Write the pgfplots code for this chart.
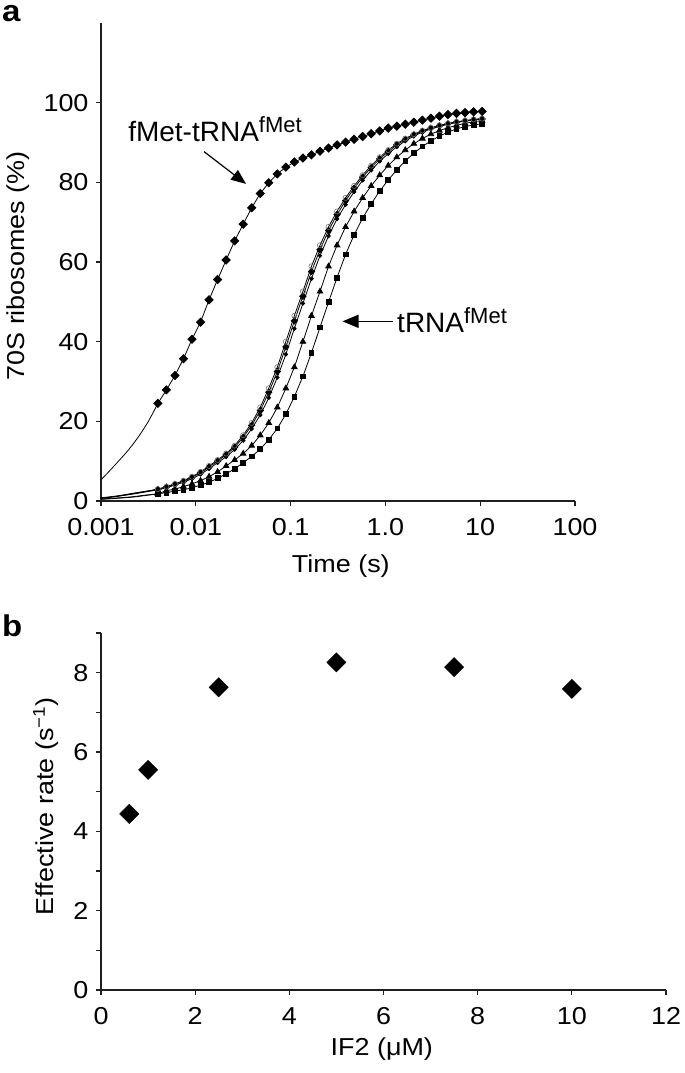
\documentclass[border=0pt]{standalone}
\usepackage{fontspec}
\setmainfont{Liberation Sans}[FakeStretch=1.1]
\newfontfamily\annfont{Liberation Sans}
\usepackage{pgfplots}
\pgfplotsset{compat=1.18}
\usepackage{pgfplotstable}
\usetikzlibrary{arrows.meta}

\newcommand{\tfont}{\fontsize{24.5}{26}\selectfont}
\newcommand{\afont}{\annfont\fontsize{28}{30}\selectfont}
\newcommand{\sfont}{\annfont\fontsize{22}{24}\selectfont}

% fMet-tRNA^fMet time course
\pgfplotstableread{
t y
0.00398 24.5
0.00490 27.9
0.00603 31.5
0.00741 35.7
0.00912 40.6
0.01122 44.9
0.01380 50.5
0.01698 55.6
0.02089 60.5
0.02570 65.3
0.03162 69.5
0.03890 73.6
0.04786 77.2
0.05888 79.9
0.07244 82.1
0.08913 83.8
0.1096 85.1
0.1349 86.1
0.1660 86.9
0.2042 87.8
0.2512 88.6
0.3090 89.4
0.3802 90.1
0.4677 90.8
0.5754 91.5
0.7079 92.2
0.8710 92.9
1.0715 93.6
1.3183 94.1
1.6218 94.6
1.9953 95.1
2.4547 95.6
3.0200 96.1
3.7154 96.6
4.5709 97.0
5.6234 97.3
6.9183 97.5
8.5114 97.7
10.471 97.8
}\fmet

% tRNA^fMet time courses (five conditions)
\pgfplotstableread{
t A B C T S
0.00398 3.0 2.9 2.8 1.8 1.8
0.00490 3.6 3.5 3.3 2.6 2.1
0.00603 4.3 4.2 4.0 3.0 2.5
0.00741 5.1 4.9 4.7 3.6 2.8
0.00912 6.1 5.9 5.6 4.3 3.3
0.01122 7.3 7.1 6.7 5.1 4.0
0.01380 8.8 8.5 8.1 6.1 4.7
0.01698 10.3 10.0 9.6 7.3 5.7
0.02089 11.9 11.6 11.1 8.8 6.8
0.02570 13.9 13.5 12.9 10.3 8.1
0.03162 16.5 16.0 15.2 11.9 9.6
0.03890 19.6 19.0 18.1 13.9 11.2
0.04786 23.5 22.7 21.6 16.5 13.0
0.05888 28.3 27.3 25.9 19.6 15.4
0.07244 33.6 32.5 31.0 23.5 18.2
0.08913 40.0 38.7 36.8 28.3 21.8
0.1096 46.5 45.2 43.3 33.6 26.2
0.1349 52.6 51.4 49.6 40.0 31.3
0.1660 58.9 57.6 55.8 46.5 37.2
0.2042 64.2 63.1 61.6 52.6 43.6
0.2512 68.8 67.9 66.5 58.9 49.9
0.3090 72.7 71.9 70.8 64.2 56.1
0.3802 76.1 75.4 74.4 68.8 61.9
0.4677 79.1 78.5 77.6 72.7 66.8
0.5754 81.8 81.3 80.5 76.1 71.0
0.7079 84.2 83.7 83.0 79.1 74.6
0.8710 86.3 85.9 85.3 81.8 77.8
1.0715 88.1 87.7 87.2 84.2 80.6
1.3183 89.7 89.4 88.9 86.3 83.1
1.6218 91.0 90.7 90.4 88.1 85.4
1.9953 92.1 91.9 91.6 89.7 87.3
2.4547 93.0 92.8 92.6 91.0 89.0
3.0200 93.7 93.6 93.4 92.1 90.4
3.7154 94.3 94.2 94.0 93.0 91.6
4.5709 94.8 94.7 94.6 93.7 92.6
5.6234 95.2 95.1 95.0 94.3 93.4
6.9183 95.5 95.4 95.4 94.8 94.0
8.5114 95.8 95.7 95.7 95.2 94.4
10.471 96.0 95.9 95.9 95.5 94.7
}\trna

% Effective rate vs IF2
\pgfplotstableread{
c k
0.6 4.44
1.0 5.55
2.5 7.63
5.0 8.26
7.5 8.14
10.0 7.59
}\rate

\pgfplotsset{
  myaxis/.style={
    scale only axis,
    axis x line*=bottom, axis y line*=left,
    axis line style={-, line width=1.2pt, black!88},
    every tick/.style={line width=1.2pt, black!88},
    tick align=outside,
    major tick length=5pt, minor tick length=5pt,
    ticklabel style={font=\tfont},
    xticklabel style={yshift=-9pt},
    yticklabel style={xshift=-4pt},
    label style={font=\tfont},
    /pgf/number format/assume math mode=true,
    clip=false,
  },
  fit/.style={black, line width=0.8pt},
}

\begin{document}
\begin{tikzpicture}[x=1pt,y=1pt]
\useasboundingbox (0,0) rectangle (685,1073);

\node[anchor=base west, inner sep=0, font=\bfseries\fontsize{30}{30}\selectfont] at (2,1051) {a};
\node[anchor=base west, inner sep=0, font=\bfseries\fontsize{30}{30}\selectfont] at (2,436) {b};

% ---------- panel a ----------
\begin{axis}[myaxis,
  at={(101pt,572pt)}, anchor=south west,
  width=474pt, height=478pt,
  xmode=log, xmin=0.001, xmax=100, ymin=0, ymax=120,
  xtick={0.001,0.01,0.1,1,10,100},
  xticklabels={0.001,0.01,0.1,1.0,10,100},
  xminorticks=false,
  ytick={0,20,40,60,80,100},
  xlabel={Time (s)},
  ylabel={70S ribosomes (\%)},
  xlabel style={at={(axis description cs:0.506,-0.1506)}, anchor=base},
  ylabel style={at={(axis description cs:-0.175,0.492)}, anchor=center},
]
% fit-line extensions to t = 0.001
\addplot[fit, smooth] coordinates {(0.001,5.3) (0.001259,7.8) (0.001585,10.4) (0.001995,13.1) (0.002512,16.3) (0.003162,20.0) (0.00398,24.5)};
\addplot[fit, smooth] coordinates {(0.001,0.8) (0.0015,1.3) (0.002,1.8) (0.0027,2.3) (0.00324,2.6) (0.00398,3.0)};
\addplot[fit, smooth] coordinates {(0.001,0.7) (0.0015,1.2) (0.002,1.7) (0.003,2.4) (0.00398,2.9)};
\addplot[fit, smooth] coordinates {(0.001,0.6) (0.002,1.6) (0.003,2.3) (0.00398,2.8)};
\addplot[fit, smooth] coordinates {(0.001,0.5) (0.002,1.0) (0.003,1.5) (0.00398,1.8)};
\addplot[fit, smooth] coordinates {(0.001,0.4) (0.002,0.9) (0.003,1.4) (0.00398,1.8)};

% tRNA^fMet curves
\addplot[fit, mark=square*, mark size=2.4pt, mark options={solid, fill=black}] table[x=t, y=S] {\trna};
\addplot[fit, mark=triangle*, mark size=3.2pt, mark options={solid, fill=black}] table[x=t, y=T] {\trna};
\addplot[fit, mark=*, mark size=1.8pt, mark options={solid, fill=black}] table[x=t, y=C] {\trna};
\addplot[fit, mark=square*, mark size=2.2pt, mark options={solid, fill=black, rotate=45}] table[x=t, y=B] {\trna};
\addplot[fit, mark=o, mark size=2.6pt, mark options={solid, draw=black!55, line width=0.6pt}] table[x=t, y=A] {\trna};

% fMet-tRNA^fMet curve
\addplot[fit, mark=square*, mark size=2.9pt, mark options={solid, fill=black, rotate=45}] table[x=t, y=y] {\fmet};

% annotations
\node[anchor=base west, inner sep=0, font=\afont] at (axis cs:0.00193,90.2) {fMet-tRNA\raisebox{9pt}{\sfont fMet}};
\draw[line width=1.2pt, -{Triangle[length=15pt,width=12pt]}] (axis cs:0.01222,87.7) -- (axis cs:0.0339,79.6);
\node[anchor=base west, inner sep=0, font=\afont] at (axis cs:1.326,42.2) {tRNA\raisebox{9pt}{\sfont fMet}};
\draw[line width=1.2pt, -{Triangle[length=16pt,width=13pt]}] (axis cs:1.20,45.1) -- (axis cs:0.3528,45.1);
\end{axis}

% ---------- panel b ----------
\begin{axis}[myaxis,
  at={(101pt,83pt)}, anchor=south west,
  width=565pt, height=357pt,
  xmin=0, xmax=12, ymin=0, ymax=9,
  xtick={0,2,4,6,8,10,12},
  ytick={0,2,4,6,8},
  minor ytick={1,3,5,7,9},
  xlabel={IF2 (μM)},
  ylabel={Effective rate (s\textsuperscript{−1})},
  xlabel style={at={(axis description cs:0.497,-0.1835)}, anchor=base},
  ylabel style={at={(axis description cs:-0.0973,0.515)}, anchor=center},
]
\addplot[only marks, mark=square*, mark size=6.8pt, mark options={fill=black, draw=black, rotate=45}] table[x=c, y=k] {\rate};
\end{axis}
\end{tikzpicture}
\end{document}
